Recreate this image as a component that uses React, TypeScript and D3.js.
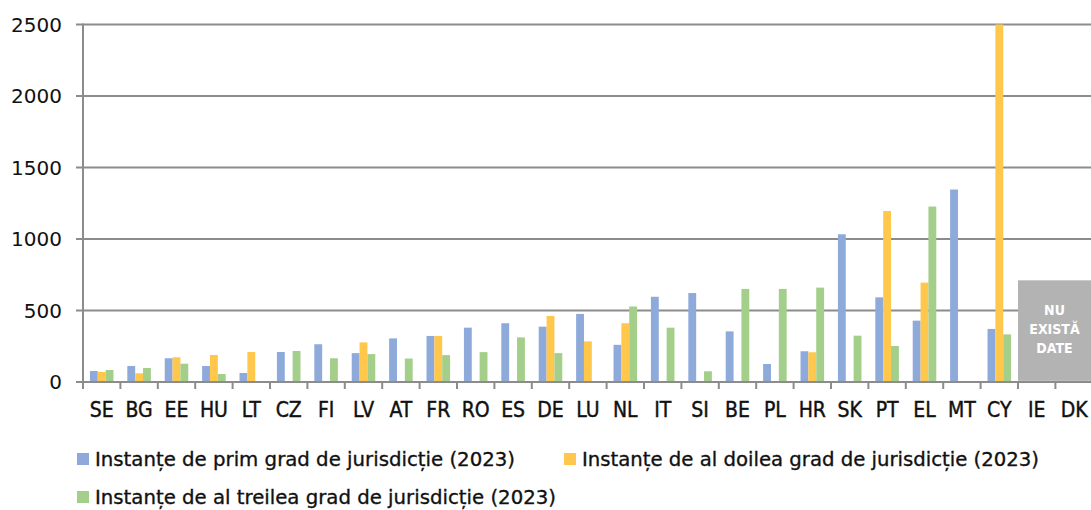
import * as d3 from "d3";

const countries = ["SE", "BG", "EE", "HU", "LT", "CZ", "FI", "LV", "AT", "FR", "RO", "ES", "DE", "LU", "NL", "IT", "SI", "BE", "PL", "HR", "SK", "PT", "EL", "MT", "CY", "IE", "DK"];

// null = no bar for that instance
const firstInstance = [77, 112, 166, 112, 63, 210, 264, 202, 305, 322, 380, 411, 387, 476, 260, 596, 622, 354, 126, 215, 1033, 592, 429, 1346, 371, null, null];
const secondInstance = [70, 61, 173, 189, 210, null, null, 277, null, 322, null, null, 462, 284, 411, null, null, null, null, 208, null, 1196, 695, null, 2500, null, null];
const thirdInstance = [84, 98, 128, 56, null, 217, 166, 195, 164, 188, 209, 312, 202, null, 528, 380, 75, 651, 651, 660, 324, 252, 1227, null, 333, null, null];

const seriesNames = [
    "Instanțe de prim grad de jurisdicție (2023)",
    "Instanțe de al doilea grad de jurisdicție (2023)",
    "Instanțe de al treilea grad de jurisdicție (2023)",
];
const seriesColors = ["#8eaadb", "#ffc84c", "#a3cf8b"];
const yTicks = [0, 500, 1000, 1500, 2000, 2500];
const noDataCountries = ["IE", "DK"];
const noDataLines = ["NU", "EXISTĂ", "DATE"];

const W = 1091;
const H = 510;
const left = 83;
const step = 37.4;
const top = 24.5;
const bottom = 382;

const App = () => {
    const allSeries = [firstInstance, secondInstance, thirdInstance];

    const x0 = d3.scaleBand<string>()
        .domain(countries)
        .range([left, left + step * countries.length])
        .paddingInner(0.37)
        .paddingOuter(0.185);

    const x1 = d3.scaleBand<number>()
        .domain([0, 1, 2])
        .range([0, x0.bandwidth()]);

    const y = d3.scaleLinear().domain([0, 2500]).range([bottom, top]);

    const gap = x0.step() * 0.185; // distance from category boundary to first bar
    const boundaries = countries.map(c => (x0(c) ?? 0) - gap);
    boundaries.push(left + step * countries.length);

    const boxX = (x0(noDataCountries[0]) ?? 0) - gap;
    const boxY = y(711);
    const boxCx = (boxX + W) / 2;

    const font = "'DejaVu Sans Condensed', 'DejaVu Sans', sans-serif";
    const legendWidths = [420, 457, 461];

    return (
        <svg width={W} height={H} style={{ position: "absolute", left: 0, top: 0, background: "#fff" }}>
            {/* gridlines */}
            {yTicks.filter(t => t > 0).map(t => (
                <line key={t} x1={left - 7} x2={W} y1={y(t)} y2={y(t)} stroke="#8c8c8c" strokeWidth={2} />
            ))}

            {/* bars */}
            {allSeries.map((vals, si) =>
                vals.map((v, i) => v == null ? null : (
                    <rect
                        key={`${si}-${i}`}
                        x={(x0(countries[i]) ?? 0) + (x1(si) ?? 0)}
                        y={y(v)}
                        width={x1.bandwidth()}
                        height={bottom - y(v)}
                        fill={seriesColors[si]}
                    />
                ))
            )}

            {/* no data box */}
            <rect x={boxX} y={boxY} width={W - boxX} height={y(8) - boxY} fill="#b3b3b3" />
            {noDataLines.map((t, i) => (
                <text key={t} x={boxCx} y={315 + i * 19} textAnchor="middle" fill="#fff"
                    fontFamily={font} fontWeight="bold" fontSize={14}>{t}</text>
            ))}

            {/* axes */}
            <line x1={left} x2={left} y1={top - 1} y2={bottom + 7} stroke="#8c8c8c" strokeWidth={2} />
            <line x1={left - 7} x2={W} y1={bottom} y2={bottom} stroke="#8c8c8c" strokeWidth={2} />
            {boundaries.map((b, i) => (
                <line key={i} x1={b} x2={b} y1={bottom} y2={bottom + 7} stroke="#8c8c8c" strokeWidth={2} />
            ))}

            {/* y labels */}
            {yTicks.map(t => (
                <text key={t} x={62} y={y(t)} dy="0.36em" textAnchor="end" fill="#111"
                    fontFamily="'DejaVu Sans', sans-serif" fontSize={20}>{t}</text>
            ))}

            {/* x labels */}
            {countries.map(c => (
                <text key={c} x={(x0(c) ?? 0) + x0.bandwidth() / 2} y={417} textAnchor="middle" fill="#111"
                    fontFamily={font} fontSize={21} stroke="#111" strokeWidth={0.4}>{c}</text>
            ))}

            {/* legend */}
            {seriesNames.map((name, i) => {
                const lx = i === 1 ? 564 : 77;
                const ly = i === 2 ? 491 : 453;
                return (
                    <g key={name}>
                        <rect x={lx} y={ly} width={12} height={12} fill={seriesColors[i]} />
                        <text x={lx + 18} y={ly + 13} fill="#111" fontFamily={font} fontSize={19}
                            stroke="#111" strokeWidth={0.3}
                            textLength={legendWidths[i]} lengthAdjust="spacingAndGlyphs">{name}</text>
                    </g>
                );
            })}
        </svg>
    );
};

export default App;
